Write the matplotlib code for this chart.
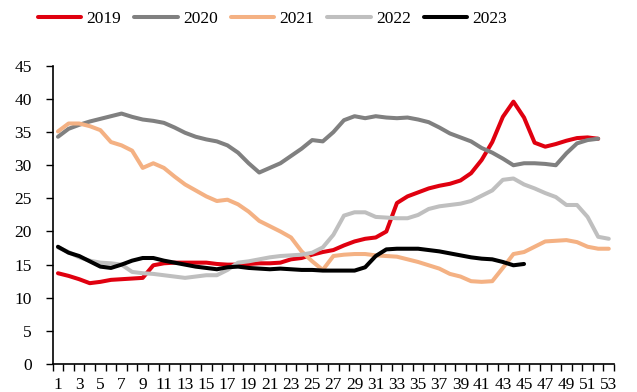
import numpy as np
import matplotlib
matplotlib.use('Agg')
import matplotlib.pyplot as plt
from matplotlib.ticker import FixedLocator, NullFormatter

# Weekly values by year
weeks = np.arange(1, 54)

y2019 = [13.7, 13.3, 12.8, 12.2, 12.4, 12.7, 12.8, 12.9, 13.0, 14.9,
         15.2, 15.3, 15.3, 15.3, 15.3, 15.1, 15.0, 15.0, 15.1, 15.2,
         15.2, 15.3, 15.8, 16.0, 16.5, 16.9, 17.2, 17.9, 18.5, 18.9,
         19.1, 20.0, 24.3, 25.3, 25.9, 26.5, 26.9, 27.2, 27.7, 28.8,
         30.8, 33.5, 37.3, 39.6, 37.2, 33.4, 32.8, 33.2, 33.7, 34.1,
         34.2, 34.0]
y2020 = [34.3, 35.5, 36.1, 36.6, 37.0, 37.4, 37.8, 37.3, 36.9, 36.7,
         36.4, 35.7, 34.9, 34.3, 33.9, 33.6, 33.0, 31.9, 30.3, 28.9,
         29.6, 30.3, 31.4, 32.5, 33.8, 33.6, 35.0, 36.8, 37.4, 37.1,
         37.4, 37.2, 37.1, 37.2, 36.9, 36.5, 35.7, 34.8, 34.2, 33.6,
         32.6, 31.9, 31.0, 30.0, 30.3, 30.3, 30.2, 30.0, 31.8, 33.3,
         33.8, 34.0]
y2021 = [35.1, 36.3, 36.3, 35.9, 35.3, 33.5, 33.0, 32.2, 29.6, 30.3,
         29.6, 28.3, 27.1, 26.2, 25.3, 24.6, 24.8, 24.1, 23.0, 21.6,
         20.8, 20.0, 19.1, 17.0, 15.5, 14.2, 16.3, 16.5, 16.6, 16.6,
         16.4, 16.3, 16.2, 15.8, 15.4, 14.9, 14.4, 13.6, 13.2, 12.5,
         12.4, 12.5, 14.5, 16.6, 16.9, 17.7, 18.5, 18.6, 18.7, 18.4,
         17.7, 17.4, 17.4]
y2022 = [17.6, 16.9, 16.1, 15.6, 15.3, 15.2, 15.0, 13.9, 13.7, 13.6,
         13.4, 13.2, 13.0, 13.2, 13.4, 13.4, 14.2, 15.3, 15.5, 15.8,
         16.1, 16.3, 16.4, 16.5, 16.8, 17.6, 19.5, 22.4, 22.9, 22.9,
         22.2, 22.1, 22.0, 22.0, 22.5, 23.4, 23.8, 24.0, 24.2, 24.6,
         25.4, 26.2, 27.8, 28.0, 27.1, 26.5, 25.8, 25.2, 24.0, 24.0,
         22.2, 19.2, 18.9]
y2023 = [17.7, 16.8, 16.3, 15.5, 14.7, 14.5, 15.0, 15.6, 16.0, 16.0,
         15.6, 15.3, 15.0, 14.7, 14.5, 14.3, 14.6, 14.7, 14.5, 14.4,
         14.3, 14.4, 14.3, 14.2, 14.2, 14.1, 14.1, 14.1, 14.1, 14.6,
         16.3, 17.3, 17.4, 17.4, 17.4, 17.2, 17.0, 16.7, 16.4, 16.1,
         15.9, 15.8, 15.4, 14.9, 15.1]

series = [
    ('2019', y2019, '#E0000F'),
    ('2020', y2020, '#808080'),
    ('2021', y2021, '#F4B183'),
    ('2022', y2022, '#BFBFBF'),
    ('2023', y2023, '#000000'),
]

plt.rcParams['font.family'] = ['Liberation Serif', 'DejaVu Serif']
plt.rcParams['font.size'] = 12

fig = plt.figure(figsize=(6.37, 3.92), dpi=100)
ax = fig.add_axes([0.0827, 0.0714, 0.8813, 0.7606])

for label, vals, color in series:
    ax.plot(weeks[:len(vals)], vals, color=color, lw=2.9, label=label,
            solid_capstyle='round', solid_joinstyle='round')

ax.set_xlim(0.5, 53.5)
ax.set_ylim(0, 45)
ax.set_yticks(np.arange(0, 46, 5))

# tick marks on category boundaries, labels on odd weeks
ax.xaxis.set_major_locator(FixedLocator(np.arange(0.5, 54, 1)))
ax.xaxis.set_major_formatter(NullFormatter())
ax.xaxis.set_minor_locator(FixedLocator(weeks[::2]))
ax.set_xticklabels([str(w) for w in weeks[::2]], minor=True)
ax.tick_params(axis='x', which='major', length=5, width=1, direction='out')
ax.tick_params(axis='x', which='minor', length=0, pad=9, labelsize=12.5)
ax.tick_params(axis='y', length=5, width=1, direction='out', pad=10, labelsize=12.5)

for side in ('top', 'right'):
    ax.spines[side].set_visible(False)
for side in ('left', 'bottom'):
    ax.spines[side].set_linewidth(1.2)

fig.legend(loc='center', bbox_to_anchor=(0.428, 0.951), ncol=5, frameon=False,
           handlelength=2.5, handletextpad=0.3, columnspacing=0.75, fontsize=12.5)

fig.savefig('out.png', dpi=100)
